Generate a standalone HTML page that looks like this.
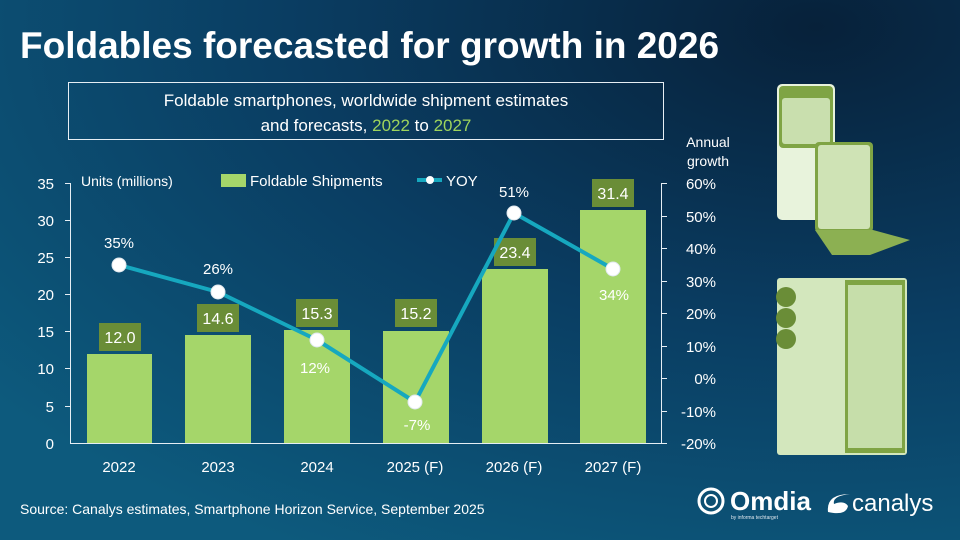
<!DOCTYPE html>
<html><head><style>
body{margin:0;width:960px;height:540px;overflow:hidden;}
svg text{font-family:"Liberation Sans","DejaVu Sans",sans-serif;}
</style></head><body>
<svg width="960" height="540" xmlns="http://www.w3.org/2000/svg">
<defs>
<radialGradient id="bg" cx="0.85" cy="0.05" r="1.1">
<stop offset="0" stop-color="#07213a"/><stop offset="0.5" stop-color="#0a3d62"/><stop offset="1" stop-color="#0d5a7d"/>
</radialGradient>
</defs>
<rect width="960" height="540" fill="url(#bg)"/>
<text x="20" y="58" fill="#fff" font-size="37" font-weight="bold">Foldables forecasted for growth in 2026</text>
<rect x="68.5" y="82.5" width="595" height="57" fill="none" stroke="#e6eef4" stroke-width="1"/>
<text x="366" y="106" fill="#fff" font-size="17" text-anchor="middle">Foldable smartphones, worldwide shipment estimates</text>
<text x="366" y="131" fill="#fff" font-size="17" text-anchor="middle">and forecasts, <tspan fill="#9ed45c">2022</tspan> to <tspan fill="#9ed45c">2027</tspan></text>
<text x="708" y="147" fill="#fff" font-size="14" text-anchor="middle">Annual</text>
<text x="708" y="166" fill="#fff" font-size="14" text-anchor="middle">growth</text>
<g stroke="#e6eef4" stroke-width="1">
<line x1="70.5" y1="183" x2="70.5" y2="443"/>
<line x1="70" y1="443.5" x2="662" y2="443.5"/>
<line x1="661.5" y1="183" x2="661.5" y2="443"/>
<line x1="65" y1="183.5" x2="70" y2="183.5"/><line x1="65" y1="220.5" x2="70" y2="220.5"/><line x1="65" y1="257.5" x2="70" y2="257.5"/><line x1="65" y1="294.5" x2="70" y2="294.5"/><line x1="65" y1="331.5" x2="70" y2="331.5"/><line x1="65" y1="368.5" x2="70" y2="368.5"/><line x1="65" y1="406.5" x2="70" y2="406.5"/>
<line x1="662" y1="183.5" x2="667" y2="183.5"/><line x1="662" y1="216.5" x2="667" y2="216.5"/><line x1="662" y1="248.5" x2="667" y2="248.5"/><line x1="662" y1="281.5" x2="667" y2="281.5"/><line x1="662" y1="313.5" x2="667" y2="313.5"/><line x1="662" y1="346.5" x2="667" y2="346.5"/><line x1="662" y1="378.5" x2="667" y2="378.5"/><line x1="662" y1="411.5" x2="667" y2="411.5"/><line x1="662" y1="443.5" x2="667" y2="443.5"/>
</g>
<g fill="#fff" font-size="15" text-anchor="end">
<text x="54" y="189">35</text><text x="54" y="226">30</text><text x="54" y="263">25</text><text x="54" y="300">20</text><text x="54" y="337">15</text><text x="54" y="374">10</text><text x="54" y="412">5</text><text x="54" y="449">0</text>
</g>
<g fill="#fff" font-size="15" text-anchor="end">
<text x="716" y="189">60%</text><text x="716" y="222">50%</text><text x="716" y="254">40%</text><text x="716" y="287">30%</text><text x="716" y="319">20%</text><text x="716" y="352">10%</text><text x="716" y="384">0%</text><text x="716" y="417">-10%</text><text x="716" y="449">-20%</text>
</g>
<text x="81" y="186" fill="#fff" font-size="14">Units (millions)</text>
<rect x="221" y="174" width="25" height="13" fill="#a5d66a"/>
<text x="250" y="186" fill="#fff" font-size="15">Foldable Shipments</text>
<line x1="417" y1="180" x2="442" y2="180" stroke="#16a8bf" stroke-width="4"/>
<circle cx="430" cy="180" r="4" fill="#fff"/>
<text x="446" y="186" fill="#fff" font-size="15">YOY</text>
<g fill="#a5d66a">
<rect x="87" y="354" width="65" height="89"/>
<rect x="185" y="335" width="66" height="108"/>
<rect x="284" y="330" width="66" height="113"/>
<rect x="383" y="331" width="66" height="112"/>
<rect x="482" y="269" width="66" height="174"/>
<rect x="580" y="210" width="66" height="233"/>
</g>
<g fill="#6a8d37">
<rect x="99" y="323" width="42" height="28"/>
<rect x="197" y="304" width="42" height="28"/>
<rect x="296" y="299" width="42" height="28"/>
<rect x="395" y="299" width="42" height="28"/>
<rect x="494" y="238" width="42" height="28"/>
<rect x="592" y="179" width="42" height="28"/>
</g>
<g fill="#fff" font-size="16" text-anchor="middle">
<text x="120" y="343">12.0</text><text x="218" y="324">14.6</text><text x="317" y="319">15.3</text><text x="416" y="319">15.2</text><text x="515" y="258">23.4</text><text x="613" y="199">31.4</text>
</g>
<polyline points="119,265 218,292 317,340 415,402 514,213 613,269" fill="none" stroke="#16a8bf" stroke-width="4" stroke-linejoin="round"/>
<g fill="#fff" stroke="#e0e8ee" stroke-width="1">
<circle cx="119" cy="265" r="7"/><circle cx="218" cy="292" r="7"/><circle cx="317" cy="340" r="7"/><circle cx="415" cy="402" r="7"/><circle cx="514" cy="213" r="7"/><circle cx="613" cy="269" r="7"/>
</g>
<g fill="#fff" font-size="15" text-anchor="middle">
<text x="119" y="248">35%</text><text x="218" y="274">26%</text><text x="315" y="373">12%</text><text x="417" y="430">-7%</text><text x="514" y="197">51%</text><text x="614" y="300">34%</text>
</g>
<g fill="#fff" font-size="15" text-anchor="middle">
<text x="119" y="472">2022</text><text x="218" y="472">2023</text><text x="317" y="472">2024</text><text x="415" y="472">2025 (F)</text><text x="514" y="472">2026 (F)</text><text x="613" y="472">2027 (F)</text>
</g>
<text x="20" y="514" fill="#fff" font-size="14">Source: Canalys estimates, Smartphone Horizon Service, September 2025</text>
<rect x="777" y="84" width="58" height="136" rx="5" fill="#e8f3dc"/>
<rect x="779" y="86" width="54" height="62" rx="4" fill="#7fa444"/>
<rect x="782" y="98" width="48" height="46" rx="3" fill="#c9dfae"/>
<rect x="815" y="142" width="58" height="90" rx="4" fill="#7fa444"/>
<rect x="818" y="145" width="52" height="84" rx="3" fill="#cfe3b5"/>
<polygon points="815,230 873,230 910,240 870,255 832,255" fill="#8cb052"/>
<rect x="777" y="278" width="130" height="177" rx="3" fill="#d3e7bd"/>
<rect x="845" y="280" width="60" height="173" fill="#7fa444"/>
<rect x="848" y="285" width="54" height="163" fill="#c6deaa"/>
<circle cx="786" cy="297" r="10" fill="#6a8d37"/><circle cx="786" cy="318" r="10" fill="#6a8d37"/><circle cx="786" cy="339" r="10" fill="#6a8d37"/>
<circle cx="711" cy="501" r="12" fill="none" stroke="#fff" stroke-width="3"/>
<circle cx="711" cy="501" r="6" fill="none" stroke="#fff" stroke-width="2"/>
<text x="730" y="510" fill="#fff" font-size="26" font-weight="bold">Omdia</text>
<text x="731" y="519" fill="#dfe8ef" font-size="5">by informa techtarget</text>
<path d="M828 512 q-2 -18 22 -18 q-18 2 -16 10 q10 -4 14 2 q-2 10 -20 6z" fill="#fff"/>
<text x="852" y="511" fill="#fff" font-size="24">canalys</text>
</svg>
</body></html>
